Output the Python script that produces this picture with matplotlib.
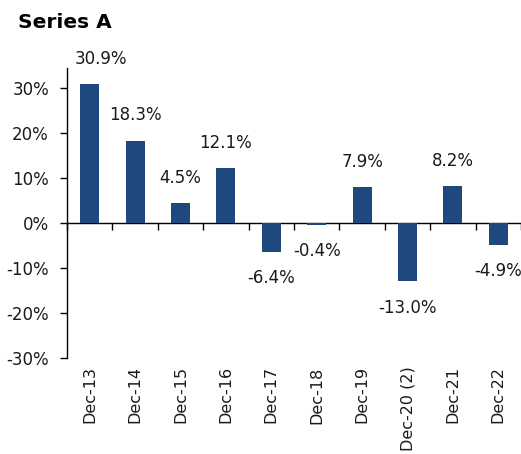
import numpy as np
import matplotlib
matplotlib.use("Agg")
import matplotlib.pyplot as plt

# data
categories = ["Dec-13", "Dec-14", "Dec-15", "Dec-16", "Dec-17", "Dec-18",
              "Dec-19", "Dec-20 (2)", "Dec-21", "Dec-22"]
values = [30.9, 18.3, 4.5, 12.1, -6.4, -0.4, 7.9, -13.0, 8.2, -4.9]
yticks = [-30, -20, -10, 0, 10, 20, 30]

barcolor = "#1f497d"
textcolor = "#1a1a1a"

plt.rcParams["font.family"] = ["DejaVu Sans"]

fig = plt.figure(figsize=(5.21, 4.54), dpi=100)
ax = fig.add_axes([67 / 521, 96 / 454, 454 / 521, 290 / 454])

x = np.arange(len(categories))
ax.bar(x, values, width=0.42, color=barcolor, zorder=3)

ymin, ymax = -30, 34.4
ax.set_ylim(ymin, ymax)
ax.set_xlim(-0.5, len(categories) - 0.5)

# y axis
ax.set_yticks(yticks)
ax.set_yticklabels(["%d%%" % t for t in yticks])
ax.tick_params(axis="y", direction="out", length=5, width=1.0,
               labelsize=12, labelcolor=textcolor, pad=8)

# category labels at the bottom, no tick marks
ax.set_xticks(x)
ax.set_xticklabels(categories, rotation=90, va="top", ha="center")
ax.tick_params(axis="x", length=0, labelsize=11.5, labelcolor=textcolor, pad=6)

for s in ["top", "right", "bottom"]:
    ax.spines[s].set_visible(False)
ax.spines["left"].set_linewidth(1.0)

# zero line with boundary ticks
zero = (0 - ymin) / (ymax - ymin)
sec = ax.secondary_xaxis(zero)
sec.set_xticks(np.arange(len(categories) + 1) - 0.5)
sec.set_xticklabels([])
sec.tick_params(direction="out", length=5, width=1.0)
sec.spines["bottom"].set_linewidth(1.0)

# value labels
for i, v in enumerate(values):
    dx = 8 if i == 0 else 0
    dy = 18 if v >= 0 else -19
    ax.annotate("%.1f%%" % v, (i, v), xytext=(dx, dy), textcoords="offset points",
                ha="center", va="center", fontsize=12, color=textcolor)

fig.text(18 / 521, 1 - 22 / 454, "Series A", fontsize=14.5, fontweight="bold",
         color="black", ha="left", va="center")

fig.savefig("out.png", dpi=100)
